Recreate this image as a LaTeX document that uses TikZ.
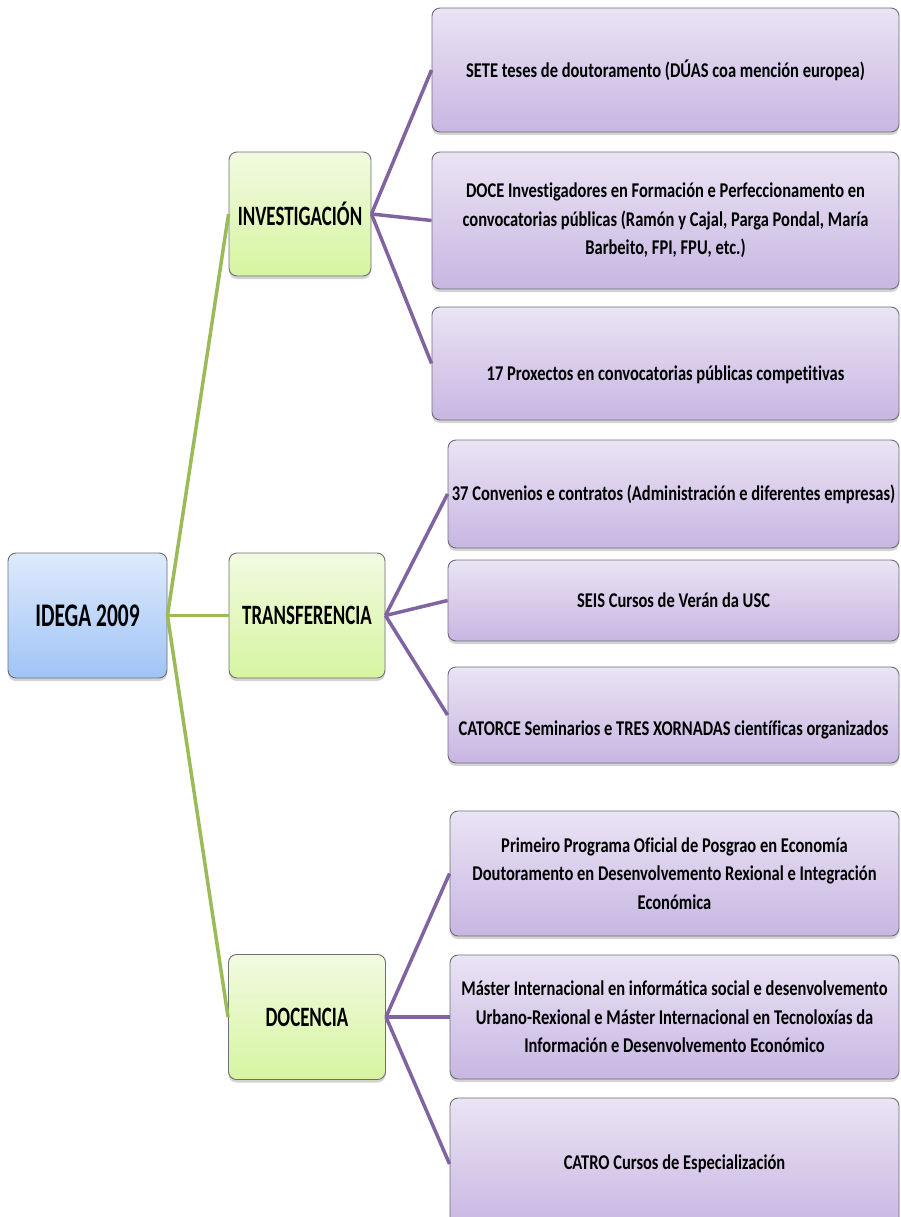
\documentclass[tikz,border=0pt]{standalone}
\usepackage{fontspec}
\setmainfont{Carlito}
\newfontfamily\leaffont[FakeStretch=0.785,Ligatures=CommonOff]{Carlito}
\newfontfamily\catfont[FakeStretch=0.675,Ligatures=CommonOff]{Carlito}
\newfontfamily\rootfont[FakeStretch=0.65,Ligatures=CommonOff]{Carlito}
\usetikzlibrary{shadows}

\definecolor{lineP}{RGB}{128,100,162}
\definecolor{lineG}{RGB}{155,187,89}
\definecolor{leafTop}{RGB}{234,228,244}
\definecolor{leafBot}{RGB}{200,182,226}
\definecolor{catTop}{RGB}{242,250,225}
\definecolor{catBot}{RGB}{214,245,160}
\definecolor{rootTop}{RGB}{222,234,252}
\definecolor{rootBot}{RGB}{160,196,246}
\definecolor{edgec}{RGB}{110,110,120}

\begin{document}
\begin{tikzpicture}[x=1pt,y=-1pt,
 box/.style={rounded corners=8pt, draw=edgec, line width=0.9pt, inner sep=0pt, align=center,
   drop shadow={shadow xshift=0pt, shadow yshift=-3pt, opacity=0.35}},
 leaf/.style={box, top color=leafTop, bottom color=leafBot, font=\leaffont\bfseries\fontsize{21}{28.5}\selectfont},
 cat/.style={box, top color=catTop, bottom color=catBot, font=\catfont\bfseries\fontsize{28}{34}\selectfont},
 rootbox/.style={box, top color=rootTop, bottom color=rootBot, font=\rootfont\bfseries\fontsize{33}{38}\selectfont},
 gline/.style={draw=lineG, line width=3.5pt},
 pline/.style={draw=lineP, line width=3.5pt},
]
\useasboundingbox (0,0) rectangle (901,1217);

\node[rootbox, minimum width=159pt, minimum height=125pt] (root) at (87.5,615.5) {IDEGA 2009};

\node[cat, minimum width=142pt, minimum height=124pt] (inv) at (300,214) {INVESTIGACIÓN};
\node[cat, minimum width=156pt, minimum height=125pt] (tra) at (307,615.5) {TRANSFERENCIA};
\node[cat, minimum width=157pt, minimum height=125pt] (doc) at (307,1017) {DOCENCIA};

\node[leaf, minimum width=467pt, minimum height=124pt] (l1) at (665.5,70) {SETE teses de doutoramento (DÚAS coa mención europea)};
\node[leaf, minimum width=467pt, minimum height=137pt] (l2) at (665.5,220.5) {DOCE Investigadores en Formación e Perfeccionamento en\\convocatorias públicas (Ramón y Cajal, Parga Pondal, María\\Barbeito, FPI, FPU, etc.)};
\node[leaf, minimum width=467pt, minimum height=113pt] (l3) at (665.5,363.5) {\raisebox{-11pt}[\height][\depth]{17 Proxectos en convocatorias públicas competitivas}};

\node[leaf, minimum width=451pt, minimum height=108pt] (l4) at (673.5,494) {37 Convenios e contratos (Administración e diferentes empresas)};
\node[leaf, minimum width=451pt, minimum height=81pt] (l5) at (673.5,600.5) {SEIS Cursos de Verán da USC};
\node[leaf, minimum width=451pt, minimum height=96pt] (l6) at (673.5,715) {\raisebox{-15pt}[\height][\depth]{CATORCE Seminarios e TRES XORNADAS científicas organizados}};

\node[leaf, minimum width=449pt, minimum height=125pt] (l7) at (674.5,873.5) {Primeiro Programa Oficial de Posgrao en Economía\\Doutoramento en Desenvolvemento Rexional e Integración\\Económica};
\node[leaf, minimum width=449pt, minimum height=124pt] (l8) at (674.5,1017) {Máster Internacional en informática social e desenvolvemento\\Urbano-Rexional e Máster Internacional en Tecnoloxías da\\Información e Desenvolvemento Económico};
\node[leaf, minimum width=449pt, minimum height=132pt] (l9) at (674.5,1164) {CATRO Cursos de Especialización};

\draw[gline] (root.east) -- (inv.west);
\draw[gline] (root.east) -- (tra.west);
\draw[gline] (root.east) -- (doc.west);

\draw[pline] (inv.east) -- (l1.west);
\draw[pline] (inv.east) -- (l2.west);
\draw[pline] (inv.east) -- (l3.west);
\draw[pline] (tra.east) -- (l4.west);
\draw[pline] (tra.east) -- (l5.west);
\draw[pline] (tra.east) -- (l6.west);
\draw[pline] (doc.east) -- (l7.west);
\draw[pline] (doc.east) -- (l8.west);
\draw[pline] (doc.east) -- (l9.west);
\end{tikzpicture}
\end{document}
